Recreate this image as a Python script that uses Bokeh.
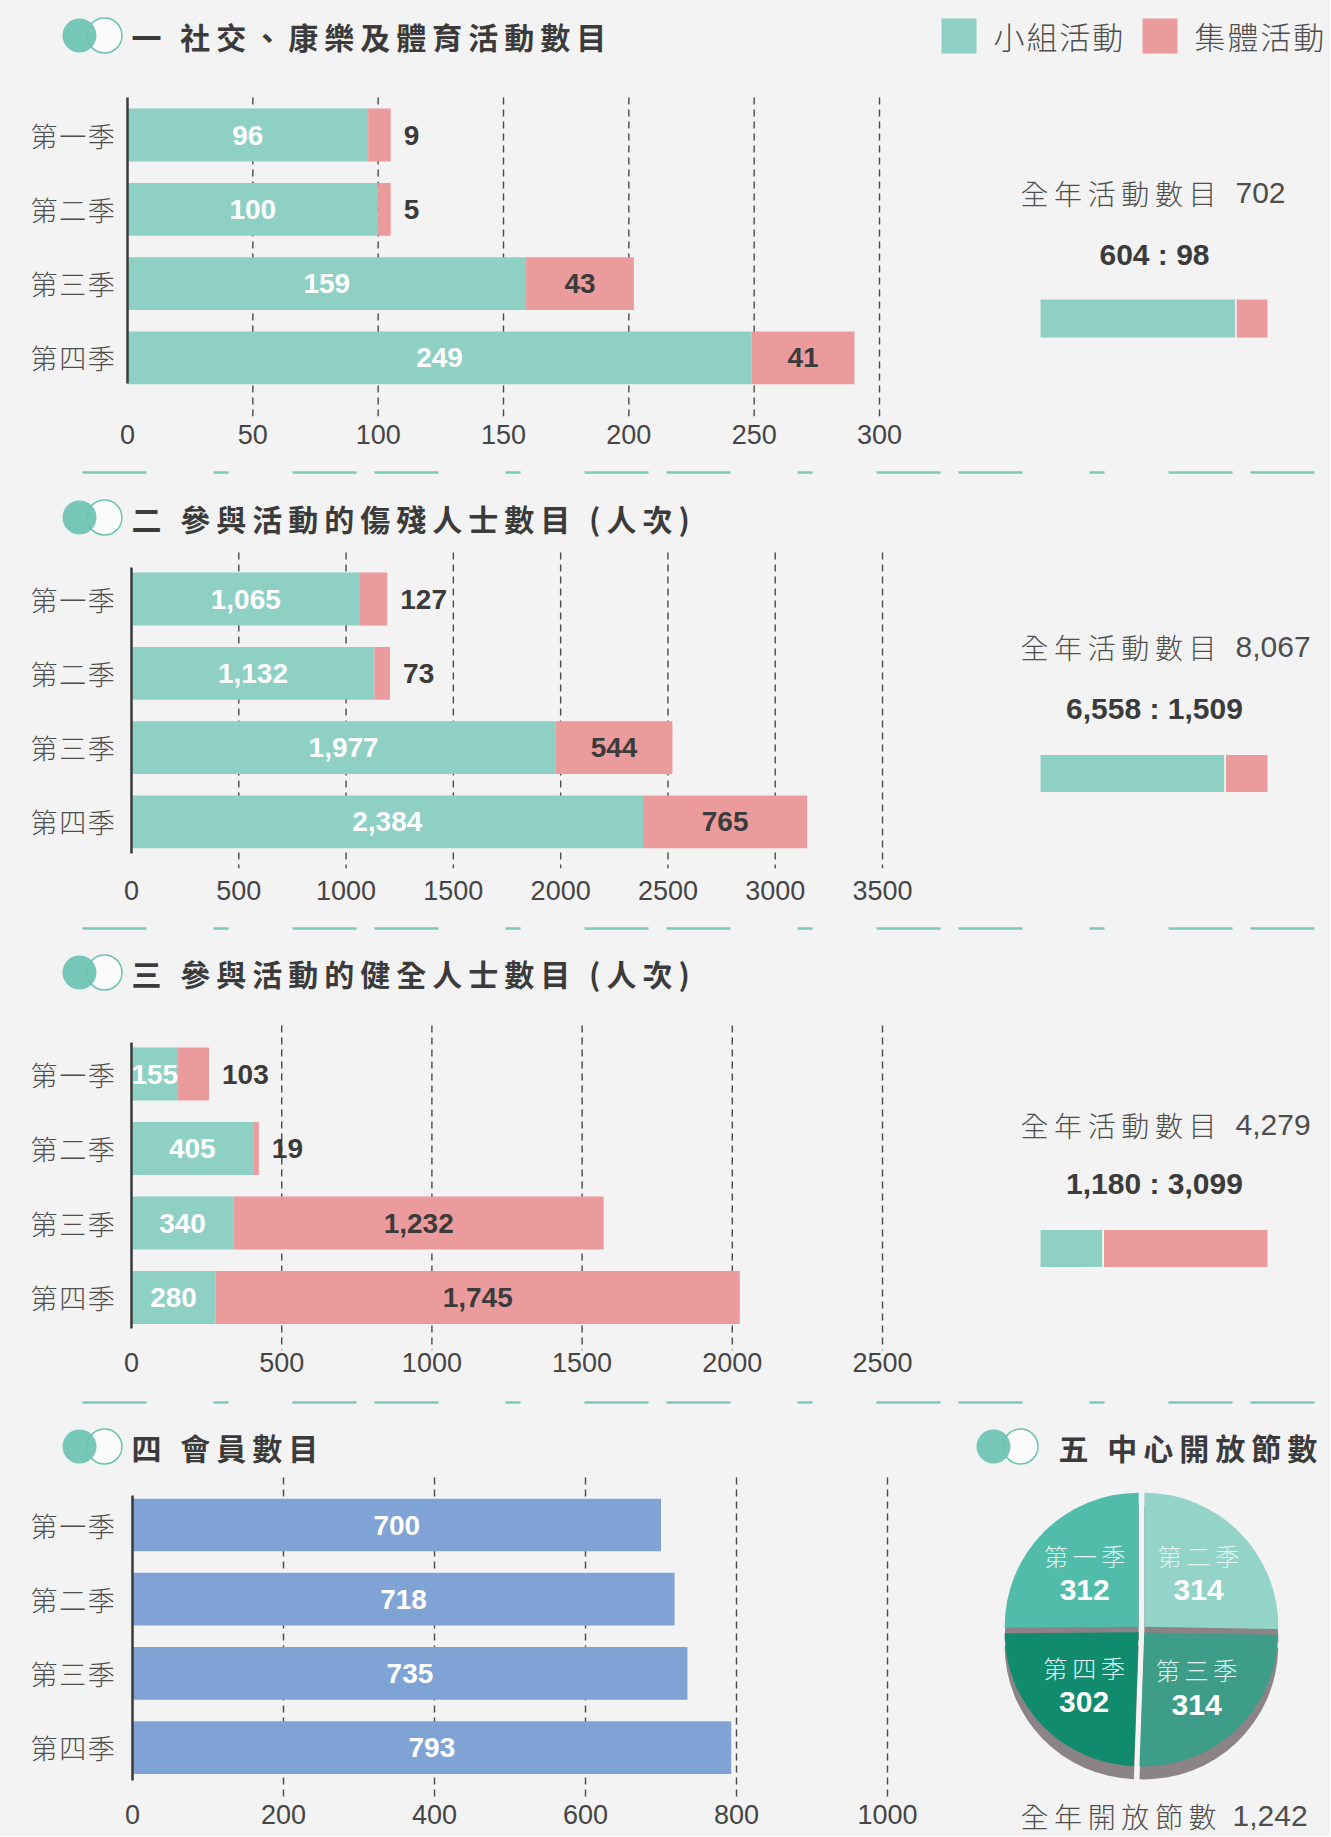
from bokeh.plotting import figure
from bokeh.models import Range1d, FixedTicker
from bokeh.layouts import column, row
from bokeh.embed import file_html
from bokeh.resources import INLINE
from bokeh.core.properties import value
import numpy as np

# ---------------- data ----------------
quarters = ["第一季", "第二季", "第三季", "第四季"]
legend_labels = ["小組活動", "集體活動"]
summary_label = "全年活動數目"

s1_title = "一 社交、康樂及體育活動數目"
s1_small = [96, 100, 159, 249]
s1_group = [9, 5, 43, 41]
s1_ticks = [0, 50, 100, 150, 200, 250, 300]

s2_title = "二 參與活動的傷殘人士數目 (人次)"
s2_small = [1065, 1132, 1977, 2384]
s2_group = [127, 73, 544, 765]
s2_ticks = [0, 500, 1000, 1500, 2000, 2500, 3000, 3500]

s3_title = "三 參與活動的健全人士數目 (人次)"
s3_small = [155, 405, 340, 280]
s3_group = [103, 19, 1232, 1745]
s3_ticks = [0, 500, 1000, 1500, 2000, 2500]

s4_title = "四 會員數目"
s4_members = [700, 718, 735, 793]
s4_ticks = [0, 200, 400, 600, 800, 1000]

s5_title = "五 中心開放節數"
s5_sessions = [312, 314, 314, 302]
s5_total_label = "全年開放節數"
pie_order = [0, 3, 2, 1]   # counter-clockwise from 12 o'clock

# ---------------- style ----------------
BG = "#f3f3f3"
TEAL = "#8fd0c4"
PINK = "#ec9b9d"
BLUE = "#7fa3d4"
ICON = "#6cc3b3"
DIV = "#7ccabb"
DARK = "#3b3b3b"
GREY = "#4e4e4e"
SHADOW = "#8b8385"
PIE_COLORS = ["#52bcab", "#94d3c7", "#3e9d89", "#108b6e"]
CJK = "Noto Sans CJK TC"
CJK_L = "Noto Sans CJK TC Light"
NUM = "Liberation Sans"

X0 = 0
XR = 1330
XPIE = 950
HAIR = "\u200a"
THIN = "\u2009"


def sp(s, sep=HAIR):
    return sep.join(s)


def make_fig(top, fbot, bot, left, right, x_range=None, y_range=None, axis=True):
    if x_range is None:
        x_range = Range1d(left, right)
    if y_range is None:
        y_range = Range1d(-bot, -top)
    p = figure(width=right - left, height=bot - top, x_range=x_range, y_range=y_range,
               toolbar_location=None, output_backend="svg",
               x_axis_location="below" if axis else None, y_axis_location=None,
               min_border=0, min_border_bottom=bot - fbot,
               background_fill_color=BG, border_fill_color=BG, outline_line_color=None)
    p.frame_align = False
    p.grid.visible = False
    p.extra_x_ranges = {"pgx": Range1d(left, right)}
    p.extra_y_ranges = {"pg": Range1d(fbot, top)}
    return p


def ptext(p, x, y, txt, size, color, font=CJK, style="normal", align="left"):
    p.text(x=[x], y=[y], text=[txt], x_range_name="pgx", y_range_name="pg",
           text_font=value(font), text_font_size=size, text_font_style=style,
           text_color=color, text_align=align, text_baseline="middle")


def chips(p, xf, xo, y):
    p.scatter(x=[xo], y=[y], size=35, marker="circle", fill_color="#fbfbfb",
              line_color=ICON, line_width=1.5, x_range_name="pgx", y_range_name="pg")
    p.scatter(x=[xf], y=[y], size=34, marker="circle", fill_color=ICON, fill_alpha=0.93,
              line_color=None, x_range_name="pgx", y_range_name="pg")


def divider(p, y):
    p.segment(x0=[82], x1=[1318], y0=[y], y1=[y], x_range_name="pgx", y_range_name="pg",
              line_color=DIV, line_width=2.5, line_dash="64 67 15 64 64 18")


def section_title(p, y, title, xf=79, xo=104, xt=131):
    chips(p, xf, xo, y)
    ptext(p, xt, y, sp(title, THIN), "30px", DARK, style="bold")


def bar_panel(top, fbot, bot, left, right, x0, xmax_px, ticks, c0, d,
              grid_span, standoff, title, title_y, div_y=None):
    k = (xmax_px - x0) / ticks[-1]
    xr = Range1d((left - x0) / k, (right - x0) / k)
    yr = Range1d((fbot - c0) / d, (top - c0) / d)
    p = make_fig(top, fbot, bot, left, right, xr, yr, axis=True)
    ax = p.xaxis[0]
    ax.ticker = FixedTicker(ticks=ticks)
    ax.axis_line_color = None
    ax.major_tick_line_color = None
    ax.minor_tick_line_color = None
    ax.major_tick_out = 0
    ax.major_tick_in = 0
    ax.major_label_standoff = standoff
    ax.major_label_text_font = NUM
    ax.major_label_text_font_size = "27px"
    ax.major_label_text_color = "#454545"
    gx = ticks[1:]
    p.segment(x0=gx, x1=gx, y0=[grid_span[0]] * len(gx), y1=[grid_span[1]] * len(gx),
              y_range_name="pg", line_color="#4a4a4a", line_width=1.4, line_dash="7 5")
    if div_y is not None:
        divider(p, div_y)
    section_title(p, title_y, title)
    return p, k


def finish_axis(p, axis_span):
    p.segment(x0=[0], x1=[0], y0=[axis_span[0]], y1=[axis_span[1]], y_range_name="pg",
              line_color="#3a3a3a", line_width=2.5)
    yi = list(range(len(quarters)))
    p.text(x=[30] * len(quarters), y=yi, text=[sp(q) for q in quarters], x_range_name="pgx",
           text_font=value(CJK_L), text_font_size="27px", text_color=GREY,
           text_align="left", text_baseline="middle")


def stacked(p, k, small, group, bar_h=0.71):
    yi = np.arange(len(quarters))
    s = np.array(small)
    g = np.array(group)
    p.hbar(y=yi, left=0, right=s, height=bar_h, fill_color=TEAL, line_color=None)
    p.hbar(y=yi, left=s, right=s + g, height=bar_h, fill_color=PINK, line_color=None)
    p.text(x=s / 2, y=yi, text=[f"{v:,}" for v in small], text_font=value(NUM),
           text_font_style="bold", text_font_size="28px", text_color="white",
           text_align="center", text_baseline="middle")
    xin, yin, tin, xout, yout, tout = [], [], [], [], [], []
    for i in range(len(quarters)):
        if g[i] * k > 60:
            xin.append(s[i] + g[i] / 2); yin.append(i); tin.append(f"{g[i]:,}")
        else:
            xout.append(s[i] + g[i] + 13 / k); yout.append(i); tout.append(f"{g[i]:,}")
    for xs, ys, ts, al in ((xin, yin, tin, "center"), (xout, yout, tout, "left")):
        if xs:
            p.text(x=xs, y=ys, text=ts, text_font=value(NUM), text_font_style="bold",
                   text_font_size="28px", text_color=DARK, text_align=al,
                   text_baseline="middle")


def summary(p, small, group, left, right, ty, ry, by, bh):
    st, gt = sum(small), sum(group)
    tot = st + gt
    bx0, bx1 = 1040, 1267
    ks = (bx1 - bx0) / tot
    ranges = dict(p.extra_x_ranges)
    ranges["sum"] = Range1d((left - bx0) / ks, (right - bx0) / ks)
    p.extra_x_ranges = ranges
    ptext(p, 1020, ty, sp(summary_label, THIN), "28px", GREY, font=CJK_L)
    ptext(p, 1235, ty, f"{tot:,}", "30px", GREY, font=NUM)
    ptext(p, 1154, ry, f"{st:,} : {gt:,}", "30px", DARK, font=NUM, style="bold", align="center")
    p.hbar(y=[by], left=[0], right=[st], height=bh, x_range_name="sum", y_range_name="pg",
           fill_color=TEAL, line_color=None)
    p.hbar(y=[by], left=[st], right=[tot], height=bh, x_range_name="sum", y_range_name="pg",
           fill_color=PINK, line_color=None)
    p.segment(x0=[st], x1=[st], y0=[by - bh / 2], y1=[by + bh / 2], x_range_name="sum",
              y_range_name="pg", line_color="white", line_width=1.5)


# ---------------- section 1 ----------------
p1, k1 = bar_panel(0, 416, 458, X0, XR, 127, 879, s1_ticks, 134.5, 74.3,
                   (97, 416), 8, s1_title, 35)
stacked(p1, k1, s1_small, s1_group)
finish_axis(p1, (97, 383))
summary(p1, s1_small, s1_group, X0, XR, 192, 254, 318, 38)
# legend
p1.quad(left=[941, 1142], right=[976, 1177], top=[18, 18], bottom=[53, 53],
        fill_color=[TEAL, PINK], line_color=None, x_range_name="pgx", y_range_name="pg")
ptext(p1, 993, 35, sp(legend_labels[0]), "31px", GREY, font=CJK_L)
ptext(p1, 1194, 35, sp(legend_labels[1]), "31px", GREY, font=CJK_L)

# ---------------- section 2 ----------------
p2, k2 = bar_panel(458, 868, 914, X0, XR, 131, 882, s2_ticks, 598.5, 74.3,
                   (552, 868), 12, s2_title, 517, div_y=472)
stacked(p2, k2, s2_small, s2_group)
finish_axis(p2, (567, 853))
summary(p2, s2_small, s2_group, X0, XR, 646, 708, 773, 37)

# ---------------- section 3 ----------------
p3, k3 = bar_panel(914, 1350, 1388, X0, XR, 131, 882, s3_ticks, 1073.5, 74.5,
                   (1025, 1350), 2, s3_title, 972, div_y=928)
stacked(p3, k3, s3_small, s3_group)
finish_axis(p3, (1042, 1328))
summary(p3, s3_small, s3_group, X0, XR, 1124, 1183, 1248, 37)

# ---------------- section 4 ----------------
p4, k4 = bar_panel(1388, 1800, 1836, X0, XPIE, 132, 887, s4_ticks, 1524.5, 74.2,
                   (1477, 1800), 4, s4_title, 1446, div_y=1402)
yi4 = np.arange(len(quarters))
p4.hbar(y=yi4, left=0, right=s4_members, height=0.71, fill_color=BLUE, line_color=None)
p4.text(x=np.array(s4_members) / 2, y=yi4, text=[f"{v:,}" for v in s4_members],
        text_font=value(NUM), text_font_style="bold", text_font_size="28px",
        text_color="white", text_align="center", text_baseline="middle")
finish_axis(p4, (1495, 1780))

# ---------------- section 5 (pie) ----------------
p5 = make_fig(1388, 1836, 1836, XPIE, XR, axis=False)
divider(p5, 1402)
section_title(p5, 1446, s5_title, xf=993, xo=1020, xt=1058)
tot5 = sum(s5_sessions)
cx, cy, R = 1141, 1629, 134
st_a = [0.0] * 4
en_a = [0.0] * 4
a = np.pi / 2
for qi in pie_order:
    span = 2 * np.pi * s5_sessions[qi] / tot5
    st_a[qi] = a
    en_a[qi] = a + span
    a += span
mid = (np.array(st_a) + np.array(en_a)) / 2
ex = 4 * np.cos(mid)
ey = 4 * np.sin(mid)
p5.wedge(x=cx + ex, y=-cy + ey - 13, radius=R, radius_units="screen",
         start_angle=st_a, end_angle=en_a, fill_color=SHADOW, line_color=None)
p5.wedge(x=cx + ex, y=-cy + ey, radius=R, radius_units="screen",
         start_angle=st_a, end_angle=en_a, fill_color=PIE_COLORS, line_color=None)
lx = cx + 80 * np.cos(mid)
ly = cy - 1 - 80 * np.sin(mid)
p5.text(x=lx, y=ly - 17, text=[sp(q, THIN) for q in quarters], x_range_name="pgx",
        y_range_name="pg", text_font=value(CJK_L), text_font_size="24px",
        text_color="#e2f3ef", text_align="center", text_baseline="middle")
p5.text(x=lx, y=ly + 18, text=[f"{v:,}" for v in s5_sessions], x_range_name="pgx",
        y_range_name="pg", text_font=value(NUM), text_font_style="bold",
        text_font_size="30px", text_color="white", text_align="center",
        text_baseline="middle")
ptext(p5, 1020, 1815, sp(s5_total_label, THIN), "28px", GREY, font=CJK_L)
ptext(p5, 1232, 1815, f"{tot5:,}", "30px", GREY, font=NUM)

bottom_row = row(p4, p5, spacing=0, styles={"background-color": BG})
layout = column(p1, p2, p3, bottom_row, spacing=0, styles={"background-color": BG})
open("out.html", "w").write(file_html(layout, INLINE))
